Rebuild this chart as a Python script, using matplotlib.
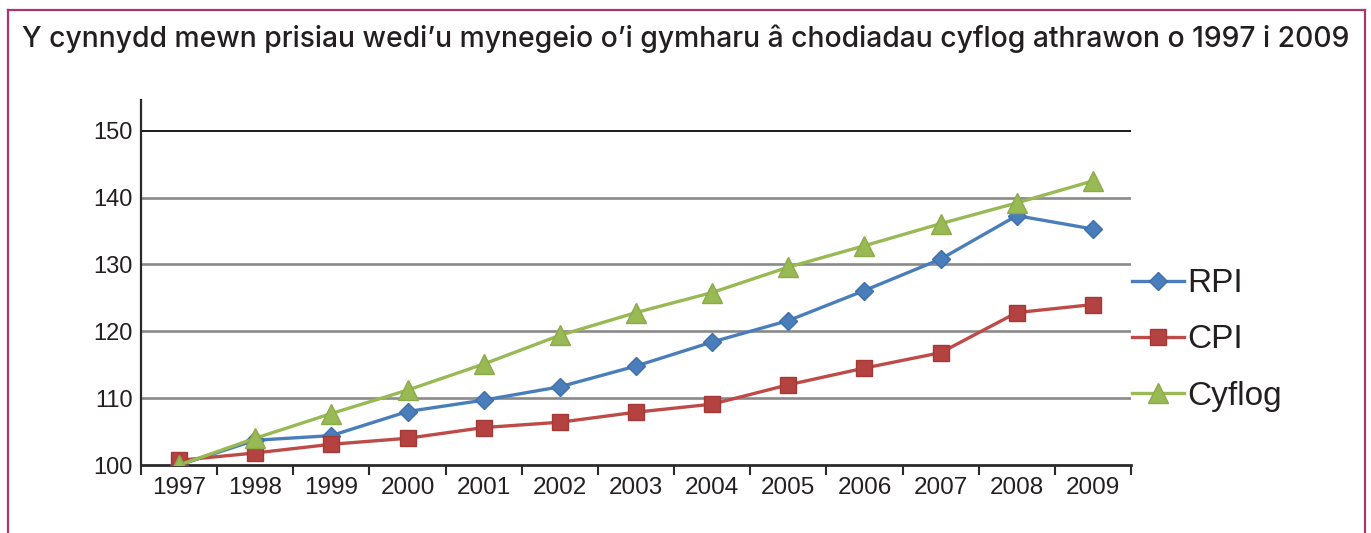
import matplotlib
matplotlib.use("Agg")
import matplotlib.pyplot as plt
from matplotlib.lines import Line2D
import numpy as np

plt.rcParams['font.family'] = ['Liberation Sans', 'DejaVu Sans']

title = "Y cynnydd mewn prisiau wedi\u2019u mynegeio o\u2019i gymharu \u00e2 chodiadau cyflog athrawon o 1997 i 2009"
years = ["1997", "1998", "1999", "2000", "2001", "2002", "2003", "2004", "2005", "2006", "2007", "2008", "2009"]
rpi = [100.0, 103.7, 104.4, 108.0, 109.7, 111.7, 114.8, 118.4, 121.6, 126.1, 130.8, 137.3, 135.3]
cpi = [100.7, 101.8, 103.1, 104.0, 105.6, 106.4, 107.9, 109.1, 112.0, 114.5, 116.8, 122.8, 124.0]
cyflog = [100.0, 104.0, 107.7, 111.2, 115.1, 119.4, 122.8, 125.8, 129.6, 132.8, 136.1, 139.2, 142.5]
series_names = ["RPI", "CPI", "Cyflog"]
yticks = [100, 110, 120, 130, 140, 150]

W, H = 1371, 533
fig = plt.figure(figsize=(W / 100, H / 100), dpi=100)
fig.patch.set_facecolor("white")

# pink frame (open at bottom)
fc = "#a8356f"
fig.add_artist(Line2D([8 / W, 8 / W], [0, 1 - 10 / H], color=fc, lw=1.6, transform=fig.transFigure))
fig.add_artist(Line2D([1365 / W, 1365 / W], [0, 1 - 10 / H], color=fc, lw=1.6, transform=fig.transFigure))
fig.add_artist(Line2D([8 / W, 1365 / W], [1 - 10 / H, 1 - 10 / H], color=fc, lw=1.6, transform=fig.transFigure))

fig.text(22 / W, 1 - 47 / H, title, fontsize=20.4, color="#231f20", ha="left", va="baseline",
         family=["Inter", "DejaVu Sans"], fontweight="medium")

left, right = 141 / W, 1131 / W
bottom, top = 1 - 465 / H, 1 - 100 / H
ax = fig.add_axes([left, bottom, right - left, top - bottom])
x = np.arange(len(years))
ax.set_xlim(-0.5, len(years) - 0.5)
ax.set_ylim(100, 154.6)

for v in yticks[1:-1]:
    ax.axhline(v, color="#8a8a8a", lw=1.9, zorder=1)
ax.axhline(150, color="#1a1a1a", lw=1.4, zorder=1)

lw = 2.4
ax.plot(x, rpi, color="#4a7ebb", lw=lw, marker="D", ms=9, mfc="#4a7ebb", mec="#3f6fab", label=series_names[0], zorder=3)
ax.plot(x, cpi, color="#be4b48", lw=lw, marker="s", ms=11, mfc="#b44240", mec="#a33a38", label=series_names[1], zorder=3)
ax.plot(x, cyflog, color="#98b954", lw=lw, marker="^", ms=15, mfc="#98b954", mec="#8aab48", label=series_names[2], zorder=3)

for s in ["top", "right"]:
    ax.spines[s].set_visible(False)
ax.spines["left"].set_color("#2a2a2a")
ax.spines["left"].set_linewidth(1.6)
ax.spines["bottom"].set_color("#2a2a2a")
ax.spines["bottom"].set_linewidth(2.0)

ax.set_yticks(yticks)
ax.set_yticklabels([str(v) for v in yticks])
ax.tick_params(axis="y", length=0, pad=6, labelsize=17, labelcolor="#231f20")
ax.set_xticks(x)
ax.set_xticklabels(years)
ax.tick_params(axis="x", which="major", length=0, pad=9, labelsize=17.5, labelcolor="#231f20")
ax.set_xticks(np.arange(-0.5, len(years), 1.0), minor=True)
ax.tick_params(axis="x", which="minor", length=7.5, width=1.5, color="#2a2a2a", direction="out")

leg = fig.legend(loc="center left", bbox_to_anchor=(1132 / W, 1 - 340 / H), frameon=False,
                 fontsize=24, handlelength=1.55, handletextpad=0.1, labelspacing=0.75,
                 borderpad=0, borderaxespad=0, markerscale=1.0)
for t in leg.get_texts():
    t.set_color("#231f20")

fig.savefig("out.png", dpi=100, facecolor="white")
